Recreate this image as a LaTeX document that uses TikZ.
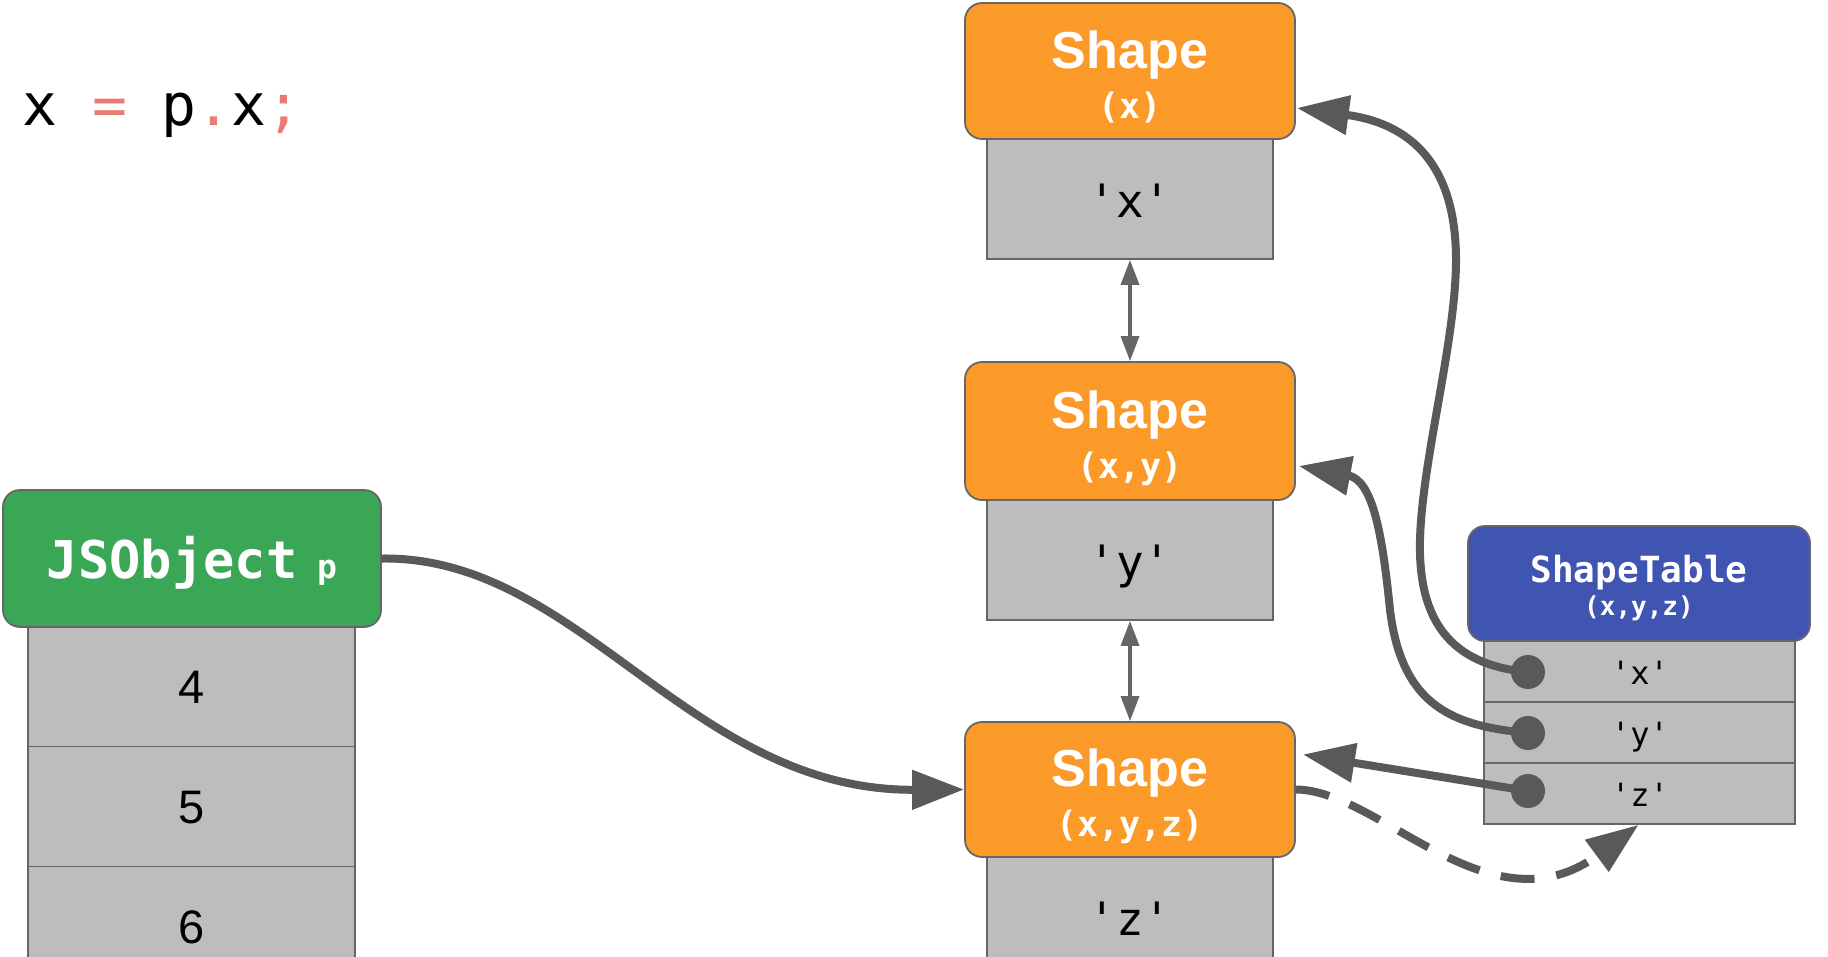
\documentclass[tikz,border=0pt]{standalone}
\usepackage{fontspec}
\setmainfont{Liberation Sans}
\setmonofont{DejaVu Sans Mono}
\usetikzlibrary{arrows.meta,calc}
\definecolor{orangeS}{RGB}{251,154,41}
\definecolor{greenS}{RGB}{58,167,87}
\definecolor{blueS}{RGB}{64,84,178}
\definecolor{cellS}{RGB}{189,189,189}
\definecolor{edgeS}{RGB}{102,102,102}
\definecolor{linkS}{RGB}{89,89,89}
\definecolor{salmonS}{RGB}{230,124,115}
\begin{document}
\begin{tikzpicture}[x=1pt,y=-1pt,
  hdr/.style={draw=edgeS, line width=1.8pt, rounded corners=17pt, inner sep=0pt},
  cellbox/.style={draw=edgeS, line width=1.8pt, fill=cellS, inner sep=0pt},
  txt/.style={inner sep=0pt, anchor=base, text=white},
  celltxt/.style={inner sep=0pt, anchor=base, text=black},
  link/.style={draw=linkS, line width=8pt},
  bigtip/.style={-{Triangle[length=52pt,width=38pt]}},
  dbl/.style={draw=edgeS, line width=3.5pt, {Triangle[length=25pt,width=18pt]}-{Triangle[length=25pt,width=18pt]}},
  dotS/.style={circle, fill=linkS, minimum size=34pt, inner sep=0pt},
  shapefont/.style={font=\fontsize{52}{52}\selectfont\bfseries},
  subfont/.style={font=\fontsize{35}{35}\selectfont\ttfamily\bfseries},
  quotefont/.style={font=\fontsize{46}{46}\selectfont\ttfamily}
]
\fill[white] (0,0) rectangle (1828,956);
\useasboundingbox (0,0) rectangle (1828,956);

% code line
\node[anchor=base west, inner sep=0pt, font=\fontsize{58}{58}\selectfont\ttfamily] (code) at (22,125)
  {x \textcolor{salmonS}{=} p\textcolor{salmonS}{.}x\textcolor{salmonS}{;}};

% Shape (x)
\node[cellbox, minimum width=286pt, minimum height=120pt] (cx) at (1130,199) {};
\node[hdr, fill=orangeS, minimum width=330pt, minimum height=136pt] (shx) at (1130,71) {};
\node[txt, shapefont] (shxT) at (1130,68) {Shape};
\node[txt, subfont] (shxS) at (1130,118) {(x)};
\node[celltxt, quotefont] (cxT) at (1130,217) {'x'};

% Shape (x,y)
\node[cellbox, minimum width=286pt, minimum height=120pt] (cy) at (1130,560) {};
\node[hdr, fill=orangeS, minimum width=330pt, minimum height=138pt] (shxy) at (1130,431) {};
\node[txt, shapefont] (shxyT) at (1130,428) {Shape};
\node[txt, subfont] (shxyS) at (1130,478) {(x,y)};
\node[celltxt, quotefont] (cyT) at (1130,578) {'y'};

% Shape (x,y,z)
\node[cellbox, minimum width=286pt, minimum height=120pt] (cz) at (1130,917) {};
\node[hdr, fill=orangeS, minimum width=330pt, minimum height=135pt] (shxyz) at (1130,789.5) {};
\node[txt, shapefont] (shxyzT) at (1130,786.5) {Shape};
\node[txt, subfont] (shxyzS) at (1130,836.5) {(x,y,z)};
\node[celltxt, quotefont] (czT) at (1130,935) {'z'};

% JSObject p
\node[cellbox, minimum width=327pt, minimum height=120pt] (c4) at (191.5,686.5) {};
\node[cellbox, minimum width=327pt, minimum height=120pt] (c5) at (191.5,806.5) {};
\node[cellbox, minimum width=327pt, minimum height=120pt] (c6) at (191.5,926.5) {};
\node[hdr, fill=greenS, minimum width=378pt, minimum height=137pt] (jso) at (192,558.5) {};
\node[txt, font=\fontsize{52}{52}\selectfont\ttfamily\bfseries] (jsoT) at (192,578)
  {JSObject{\fontsize{33}{33}\selectfont\ p}};
\node[celltxt, font=\fontsize{47}{47}\selectfont] (c4T) at (191.5,703.5) {4};
\node[celltxt, font=\fontsize{47}{47}\selectfont] (c5T) at (191.5,823.5) {5};
\node[celltxt, font=\fontsize{47}{47}\selectfont] (c6T) at (191.5,943.5) {6};

% ShapeTable
\node[cellbox, minimum width=311pt, minimum height=61pt] (tbx) at (1639.5,671.5) {};
\node[cellbox, minimum width=311pt, minimum height=61pt] (tby) at (1639.5,732.5) {};
\node[cellbox, minimum width=311pt, minimum height=61pt] (tbz) at (1639.5,793.5) {};
\node[hdr, fill=blueS, minimum width=342pt, minimum height=115pt] (tbl) at (1639,583.5) {};
\node[txt, font=\fontsize{36}{36}\selectfont\ttfamily\bfseries] (tblT) at (1639,582) {ShapeTable};
\node[txt, font=\fontsize{26}{26}\selectfont\ttfamily\bfseries] (tblS) at (1639,615) {(x,y,z)};
\node[celltxt, font=\fontsize{32}{32}\selectfont\ttfamily] (tbxT) at (1640,684) {'x'};
\node[celltxt, font=\fontsize{32}{32}\selectfont\ttfamily] (tbyT) at (1640,745) {'y'};
\node[celltxt, font=\fontsize{32}{32}\selectfont\ttfamily] (tbzT) at (1640,806) {'z'};

% dots (positions)
\coordinate (dxc) at (1528,672);
\coordinate (dyc) at (1528,733);
\coordinate (dzc) at (1528,791);

% double arrows
\draw[dbl] (cx.south) -- (shxy.north);
\draw[dbl] (cy.south) -- (shxyz.north);

% links
\draw[link, bigtip] (jso.east) .. controls (580,556) and (690,791) .. (shxyz.west);
\draw[link, bigtip] (dxc) .. controls (1450,665) and (1418,620) .. (1420,540)
  .. controls (1422,460) and (1456,340) .. (1456,260)
  .. controls (1456,175) and (1420,125) .. ($(shx.east)+(1,37)$);
\draw[link, bigtip] (dyc) .. controls (1455,726) and (1402,708) .. (1390,610)
  .. controls (1382,530) and (1372,480) .. ($(shxy.east)+(3,35)$);
\draw[link, bigtip] (dzc) -- ($(shxyz.east)+(7,-35)$);
\draw[link, bigtip, dash pattern=on 34pt off 22pt] (shxyz.east)
  .. controls (1380,790) and (1490,935) .. ($(tbz.south)+(-1,0)$);

\node[dotS] (dx) at (dxc) {};
\node[dotS] (dy) at (dyc) {};
\node[dotS] (dz) at (dzc) {};
\end{tikzpicture}
\end{document}
